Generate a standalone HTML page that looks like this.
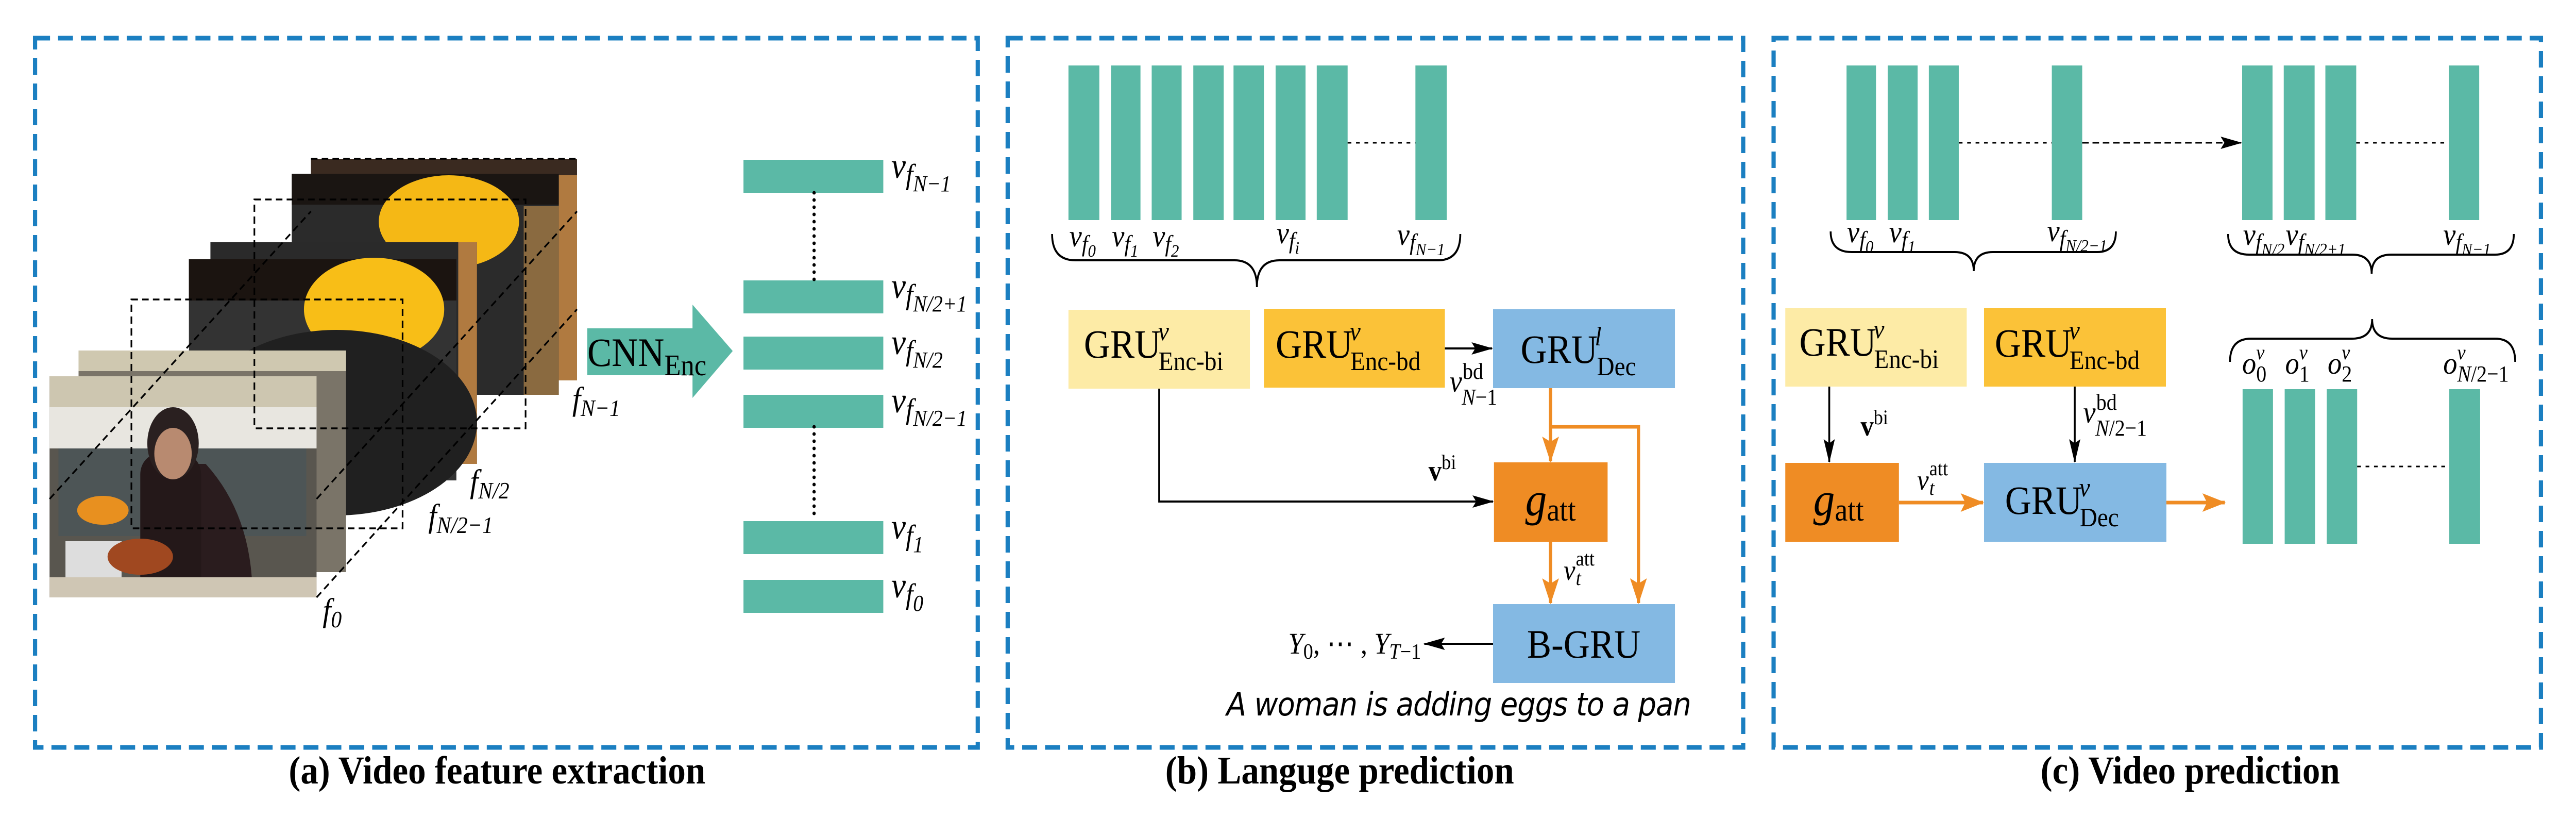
<!DOCTYPE html>
<html><head><meta charset="utf-8"><style>
html,body{margin:0;padding:0;background:#fff;overflow:hidden;width:100%;height:100%}
svg{display:block;position:fixed;left:0;top:0;width:100vw;height:100vh}
text{font-family:"Liberation Serif",serif;fill:#000}
.it{font-style:italic}
.cap{font-weight:bold;font-size:76px}
</style></head><body>
<svg viewBox="0 0 5509 1618" preserveAspectRatio="none" xmlns="http://www.w3.org/2000/svg">
<defs>
<marker id="abk" markerWidth="46" markerHeight="24" refX="44" refY="12" orient="auto" markerUnits="userSpaceOnUse"><path d="M0,0 L46,12 L0,24 L8,12 z" fill="#000"/></marker>
<marker id="aor" markerWidth="50" markerHeight="36" refX="48" refY="18" orient="auto" markerUnits="userSpaceOnUse"><path d="M0,0 L50,18 L0,36 L10,18 z" fill="#EF8C24"/></marker>
</defs>
<g fill="none" stroke="#1B7FC1" stroke-width="9" stroke-dasharray="32 17">
<rect x="75" y="74" width="2016" height="1376"/>
<rect x="2155" y="74" width="1573" height="1376"/>
<rect x="3793" y="74" width="1641" height="1376"/>
</g>
<text class="cap" x="1063" y="1520" text-anchor="middle">(a) Video feature extraction</text>
<text class="cap" x="2865" y="1520" text-anchor="middle">(b) Languge prediction</text>
<text class="cap" x="4684" y="1520" text-anchor="middle">(c) Video prediction</text>

<!-- Panel a frames -->
<g>
<rect x="665" y="308" width="569" height="430" fill="#3a2a20"/>
<rect x="1180" y="340" width="54" height="398" fill="#b07a40"/>
<rect x="624" y="337" width="571" height="429" fill="#2b2b2b"/>
<rect x="624" y="337" width="571" height="60" fill="#1a1512"/>
<ellipse cx="960" cy="430" rx="150" ry="90" fill="#F5B815"/>
<rect x="1120" y="400" width="75" height="366" fill="#8a6a40"/>
<rect x="624" y="620" width="80" height="146" fill="#bbb"/>
<rect x="450" y="470" width="570" height="430" fill="#2a2a2a"/>
<rect x="980" y="470" width="40" height="430" fill="#b07a40"/>
<rect x="404" y="503" width="572" height="429" fill="#333"/>
<rect x="404" y="503" width="572" height="80" fill="#1b1410"/>
<ellipse cx="800" cy="600" rx="150" ry="100" fill="#F8BE17"/>
<ellipse cx="720" cy="820" rx="300" ry="180" fill="#202020"/>
<rect x="168" y="680" width="572" height="430" fill="#7a7468"/>
<rect x="168" y="680" width="572" height="40" fill="#cfc8b0"/>
<rect x="106" y="730" width="571" height="429" fill="#59564f"/>
<rect x="106" y="730" width="571" height="60" fill="#cdc6b0"/>
<rect x="106" y="790" width="571" height="80" fill="#e8e6e0"/>
<rect x="125" y="870" width="530" height="170" fill="#4d5556"/>
<path d="M310,900 Q400,1010 430,1159 L540,1159 Q540,1000 440,900 z" fill="#2a1c1e"/>
<rect x="300" y="880" width="130" height="279" rx="40" fill="#241819"/>
<ellipse cx="370" cy="860" rx="55" ry="70" fill="#2a2020"/>
<ellipse cx="370" cy="880" rx="40" ry="50" fill="#b88a70"/>
<rect x="140" y="1050" width="120" height="90" fill="#ddd"/>
<ellipse cx="300" cy="1080" rx="70" ry="35" fill="#a04820"/>
<rect x="106" y="1120" width="571" height="39" fill="#cfc6b4"/>
<ellipse cx="220" cy="990" rx="55" ry="28" fill="#e8901f"/>
</g>
<g fill="none" stroke="#000" stroke-width="3.5" stroke-dasharray="14 9">
<path d="M106,968 L665,410"/>
<path d="M677,1159 L1234,600"/>
<path d="M677,968 L1234,410"/>
<rect x="281" y="581" width="580" height="444"/>
<rect x="544" y="387" width="580" height="444"/>
<path d="M665,308 L1234,308"/>
</g>
<text class="it" x="1224" y="795" font-size="64">f<tspan font-size="46" dy="12">N−1</tspan></text>
<text class="it" x="1005" y="955" font-size="64">f<tspan font-size="46" dy="12">N/2</tspan></text>
<text class="it" x="916" y="1022" font-size="64">f<tspan font-size="46" dy="12">N/2−1</tspan></text>
<text class="it" x="690" y="1205" font-size="64">f<tspan font-size="46" dy="12">0</tspan></text>

<!-- CNN arrow -->
<path d="M1256,637 L1481,637 L1481,591 L1567,681 L1481,772 L1481,728 L1256,728 z" fill="#5BB9A6"/>
<text x="1256" y="710" font-size="78">CNN<tspan font-size="58" dy="18">Enc</tspan></text>

<!-- feature bars a -->
<g fill="#5BB9A6">
<rect x="1590" y="310" width="299" height="64"/>
<rect x="1590" y="544" width="299" height="64"/>
<rect x="1590" y="653" width="299" height="64"/>
<rect x="1590" y="766" width="299" height="64"/>
<rect x="1590" y="1011" width="299" height="64"/>
<rect x="1590" y="1125" width="299" height="64"/>
</g>
<g stroke="#000" stroke-width="7" stroke-dasharray="0 14" stroke-linecap="round">
<path d="M1741,374 L1741,544"/>
<path d="M1741,828 L1741,1000"/>
</g>
<g font-size="70" class="it">
<text x="1906" y="345">v<tspan font-size="56" dy="12">f</tspan><tspan font-size="44" dy="14">N−1</tspan></text>
<text x="1906" y="578">v<tspan font-size="56" dy="12">f</tspan><tspan font-size="44" dy="14">N/2+1</tspan></text>
<text x="1906" y="687">v<tspan font-size="56" dy="12">f</tspan><tspan font-size="44" dy="14">N/2</tspan></text>
<text x="1906" y="800">v<tspan font-size="56" dy="12">f</tspan><tspan font-size="44" dy="14">N/2−1</tspan></text>
<text x="1906" y="1045">v<tspan font-size="56" dy="12">f</tspan><tspan font-size="44" dy="14">1</tspan></text>
<text x="1906" y="1159">v<tspan font-size="56" dy="12">f</tspan><tspan font-size="44" dy="14">0</tspan></text>
</g>

<!-- Panel b -->
<g fill="#5BB9A6">
<rect x="2285" y="127" width="66" height="300"/>
<rect x="2376" y="127" width="63" height="300"/>
<rect x="2463" y="127" width="64" height="300"/>
<rect x="2552" y="127" width="65" height="300"/>
<rect x="2638" y="127" width="65" height="300"/>
<rect x="2728" y="127" width="64" height="300"/>
<rect x="2816" y="127" width="66" height="300"/>
<rect x="3027" y="127" width="67" height="300"/>
</g>
<path d="M2882,277 L3027,277" stroke="#000" stroke-width="3" stroke-dasharray="8 10"/>
<g class="it" font-size="60">
<text x="2287" y="478">v<tspan font-size="46" dy="10">f</tspan><tspan font-size="34" dy="10">0</tspan></text>
<text x="2378" y="478">v<tspan font-size="46" dy="10">f</tspan><tspan font-size="34" dy="10">1</tspan></text>
<text x="2465" y="478">v<tspan font-size="46" dy="10">f</tspan><tspan font-size="34" dy="10">2</tspan></text>
<text x="2730" y="472">v<tspan font-size="46" dy="10">f</tspan><tspan font-size="34" dy="10">i</tspan></text>
<text x="2988" y="475">v<tspan font-size="46" dy="10">f</tspan><tspan font-size="34" dy="10">N−1</tspan></text>
</g>
<path d="M2250,454 Q2250,505 2300,505 L2640,505 Q2688,505 2688,557 Q2688,505 2736,505 L3075,505 Q3123,505 3123,454" fill="none" stroke="#000" stroke-width="4"/>
<rect x="2285" y="601" width="388" height="153" fill="#FDEBA6"/>
<rect x="2703" y="599" width="387" height="153" fill="#FBC238"/>
<rect x="3193" y="600" width="389" height="153" fill="#84B9E3"/>
<rect x="3195" y="897" width="243" height="154" fill="#EF8C24"/>
<rect x="3193" y="1172" width="389" height="153" fill="#84B9E3"/>
<text x="2318" y="694" font-size="78">GRU<tspan class="it" font-size="52" dy="-34" dx="-6">v</tspan><tspan font-size="52" dx="-22" dy="58">Enc-bi</tspan></text>
<text x="2728" y="694" font-size="78">GRU<tspan class="it" font-size="52" dy="-34" dx="-6">v</tspan><tspan font-size="52" dx="-22" dy="58">Enc-bd</tspan></text>
<text x="3252" y="704" font-size="78">GRU<tspan class="it" font-size="52" dy="-34" dx="-6">l</tspan><tspan font-size="52" dx="-10" dy="58">Dec</tspan></text>
<text x="3262" y="1000" font-size="92" class="it">g<tspan font-size="62" style="font-style:normal" dy="10">att</tspan></text>
<text x="3387" y="1276" font-size="78" text-anchor="middle">B-GRU</text>
<path d="M3090,676 L3191,676" stroke="#000" stroke-width="4" marker-end="url(#abk)"/>
<text x="3100" y="760" font-size="60" class="it">v</text>
<text x="3128" y="735" font-size="44">bd</text>
<text x="3126" y="785" font-size="44" class="it">N<tspan style="font-style:normal">−1</tspan></text>
<path d="M2479,754 L2479,973 L3193,973" fill="none" stroke="#000" stroke-width="4" marker-end="url(#abk)"/>
<text x="3055" y="932" font-size="56" font-weight="bold">v<tspan font-size="40" font-weight="normal" dy="-22">bi</tspan></text>
<g fill="none" stroke="#EF8C24" stroke-width="7">
<path d="M3316,753 L3316,895" marker-end="url(#aor)"/>
<path d="M3316,828 L3504,828 L3504,1170" marker-end="url(#aor)"/>
<path d="M3316,1051 L3316,1170" marker-end="url(#aor)"/>
</g>
<text x="3344" y="1125" font-size="56" class="it">v</text>
<text x="3370" y="1097" font-size="40">att</text>
<text x="3370" y="1135" font-size="40" class="it">t</text>
<path d="M3193,1249 L3046,1249" stroke="#000" stroke-width="4" marker-end="url(#abk)"/>
<text x="2755" y="1268" font-size="58" class="it">Y<tspan font-size="42" style="font-style:normal" dy="10">0</tspan><tspan dy="-10" style="font-style:normal">, ⋯ , </tspan>Y<tspan font-size="42" dy="10">T</tspan><tspan font-size="42" style="font-style:normal">−1</tspan></text>
<text x="2623" y="1388" font-size="62" class="it" style="font-family:'DejaVu Sans','Liberation Sans',sans-serif" textLength="994">A woman is adding eggs to a pan</text>

<!-- Panel c -->
<g fill="#5BB9A6">
<rect x="3949" y="127" width="63" height="300"/>
<rect x="4037" y="127" width="64" height="300"/>
<rect x="4125" y="127" width="64" height="300"/>
<rect x="4388" y="127" width="65" height="300"/>
<rect x="4795" y="127" width="65" height="300"/>
<rect x="4884" y="127" width="66" height="300"/>
<rect x="4973" y="127" width="66" height="300"/>
<rect x="5237" y="127" width="65" height="300"/>
<rect x="4796" y="755" width="65" height="300"/>
<rect x="4886" y="755" width="65" height="300"/>
<rect x="4976" y="755" width="65" height="300"/>
<rect x="5238" y="755" width="66" height="300"/>
</g>
<g stroke="#000" stroke-width="3" stroke-dasharray="8 10" fill="none">
<path d="M4189,277 L4388,277"/>
<path d="M5039,277 L5237,277"/>
<path d="M5041,905 L5238,905"/>
</g>
<path d="M4453,277 L4793,277" stroke="#000" stroke-width="3" stroke-dasharray="14 8" marker-end="url(#abk)"/>
<g class="it" font-size="60">
<text x="3950" y="470">v<tspan font-size="46" dy="10">f</tspan><tspan font-size="34" dy="10">0</tspan></text>
<text x="4040" y="470">v<tspan font-size="46" dy="10">f</tspan><tspan font-size="34" dy="10">1</tspan></text>
<text x="4378" y="468">v<tspan font-size="46" dy="10">f</tspan><tspan font-size="34" dy="10">N/2−1</tspan></text>
<text x="4797" y="475">v<tspan font-size="46" dy="10">f</tspan><tspan font-size="34" dy="10">N/2</tspan></text>
<text x="4888" y="475">v<tspan font-size="46" dy="10">f</tspan><tspan font-size="34" dy="10">N/2+1</tspan></text>
<text x="5225" y="475">v<tspan font-size="46" dy="10">f</tspan><tspan font-size="34" dy="10">N−1</tspan></text>
</g>
<g fill="none" stroke="#000" stroke-width="4">
<path d="M3915,449 Q3915,489 3960,489 L4180,489 Q4221,489 4221,526 Q4221,489 4262,489 L4485,489 Q4525,489 4525,449"/>
<path d="M4765,454 Q4765,494 4810,494 L5030,494 Q5072,494 5072,531 Q5072,494 5114,494 L5336,494 Q5376,494 5376,454"/>
<path d="M4769,702 Q4769,657 4814,657 L5030,657 Q5073,657 5073,619 Q5073,657 5116,657 L5336,657 Q5379,657 5379,702"/>
</g>
<g font-size="60">
<text x="4795" y="725" class="it">o</text><text x="4825" y="697" font-size="40" class="it">v</text><text x="4825" y="740" font-size="44">0</text>
<text x="4887" y="725" class="it">o</text><text x="4917" y="697" font-size="40" class="it">v</text><text x="4917" y="740" font-size="44">1</text>
<text x="4978" y="725" class="it">o</text><text x="5008" y="697" font-size="40" class="it">v</text><text x="5008" y="740" font-size="44">2</text>
<text x="5225" y="725" class="it">o</text><text x="5255" y="697" font-size="40" class="it">v</text><text x="5255" y="740" font-size="44"><tspan class="it">N</tspan>/2−1</text>
</g>
<rect x="3818" y="598" width="388" height="152" fill="#FDEBA6"/>
<rect x="4243" y="598" width="389" height="152" fill="#FBC238"/>
<rect x="3818" y="898" width="243" height="153" fill="#EF8C24"/>
<rect x="4243" y="898" width="390" height="153" fill="#84B9E3"/>
<text x="3848" y="690" font-size="78">GRU<tspan class="it" font-size="52" dy="-34" dx="-6">v</tspan><tspan font-size="52" dx="-22" dy="58">Enc-bi</tspan></text>
<text x="4266" y="692" font-size="78">GRU<tspan class="it" font-size="52" dy="-34" dx="-6">v</tspan><tspan font-size="52" dx="-22" dy="58">Enc-bd</tspan></text>
<text x="4288" y="997" font-size="78">GRU<tspan class="it" font-size="52" dy="-34" dx="-6">v</tspan><tspan font-size="52" dx="-22" dy="58">Dec</tspan></text>
<text x="3878" y="1000" font-size="92" class="it">g<tspan font-size="62" style="font-style:normal" dy="10">att</tspan></text>
<path d="M3912,750 L3912,896" stroke="#000" stroke-width="4" marker-end="url(#abk)"/>
<text x="3979" y="845" font-size="56" font-weight="bold">v<tspan font-size="40" font-weight="normal" dy="-22">bi</tspan></text>
<path d="M4437,750 L4437,896" stroke="#000" stroke-width="4" marker-end="url(#abk)"/>
<text x="4455" y="820" font-size="60" class="it">v</text>
<text x="4483" y="795" font-size="44">bd</text>
<text x="4481" y="845" font-size="44"><tspan class="it">N</tspan>/2−1</text>
<path d="M4061,975 L4241,975" stroke="#EF8C24" stroke-width="7" marker-end="url(#aor)"/>
<text x="4100" y="950" font-size="56" class="it">v</text>
<text x="4126" y="922" font-size="40">att</text>
<text x="4126" y="960" font-size="40" class="it">t</text>
<path d="M4633,975 L4758,975" stroke="#EF8C24" stroke-width="7" marker-end="url(#aor)"/>
</svg>
</body></html>
